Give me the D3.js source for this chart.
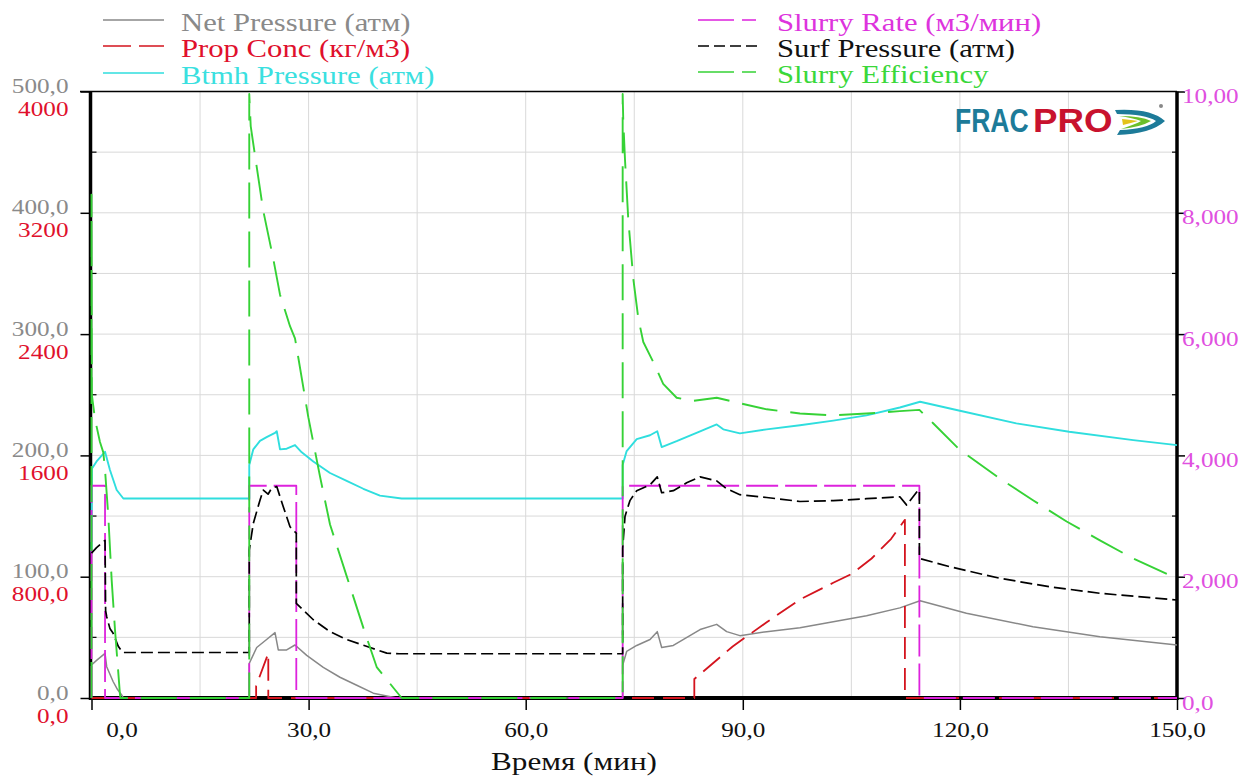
<!DOCTYPE html>
<html>
<head>
<meta charset="utf-8">
<script src="https://cdn.jsdelivr.net/npm/d3@7"></script>
<style>
  body { margin: 0; background: #fff; }
  svg { display: block; }
</style>
</head>
<body>
<svg id="chart" width="1259" height="778"></svg>
<script>
// ---- series: [time (min), value] ----
const netPressure = [
  [0,27.2],[0.7,31],[1.87,36.8],[2.1,25.8],[3.0,13.4],[3.6,7],[4.17,2.5],[4.4,0],
  [21.8,0],[21.8,28.6],[22.83,41.6],[24.2,48.2],[25.36,53.9],[25.81,39.6],[26.97,39.6],[28.12,43.7],
  [29.74,35.1],[32.03,25.3],[34.33,17.1],[36.65,10.5],[38.94,4.0],[42.17,0],
  [73.4,0],[73.4,27],[73.95,38.4],[75.34,43.3],[77.18,48.2],[78.18,54.7],[78.79,41.6],[80.4,43.3],
  [84.1,56.4],[86.39,60.7],[87.77,54.7],[89.6,51.4],[93.3,54.7],[97.9,58],[102.5,62.9],[107.1,67.8],
  [111.7,74.3],[114.5,80.2],[120.9,69.8],[130.1,58.8],[139.35,50.5],[150,43.7]
];
const propConc = [
  [0,0],[22.75,0],[22.75,80],[24.43,295],[24.43,0],
  [83.3,0],[83.3,125],[88.6,340],[93.3,500],[97.9,650],[102.5,760],[105.1,820],[107.8,920],
  [110.5,1050],[112.4,1175],[112.4,0],[150,0]
];
const btmhPressure = [
  [0,120],[0.05,189],[0.7,195],[1.87,203],[2.55,188],[3.48,171.5],[4.4,164.5],
  [21.8,164.5],[21.8,192],[22.36,205],[23.28,212],[24.2,215],[25.36,218.5],[25.6,220],[26.05,205],
  [26.97,205.5],[28.12,208.5],[29.05,202.5],[30.65,195],[32.96,185.5],[35.26,179],[37.56,172.5],
  [39.86,166.8],[42.86,164.5],
  [73.4,164.5],[73.4,192],[73.95,203.6],[75.34,213.4],[77.18,216.6],[78.18,219.9],[78.79,206.9],
  [80.86,211.7],[84.1,219.9],[86.39,225.5],[87.3,221.5],[89.6,218.2],[93.3,221.5],[97.9,224.8],
  [102.5,228.7],[107.1,233],[111.7,239.5],[114.5,244.2],[120,236.8],[127.8,226.4],[135.1,219.5],
  [143.95,212.6],[150,208.5]
];
const slurryRate = [
  [0,0],[0,3.5],[1.87,3.5],[1.87,0],[21.8,0],[21.8,3.5],[28.3,3.5],[28.3,0],
  [73.4,0],[73.4,3.5],[114.4,3.5],[114.4,0],[150,0]
];
const surfPressure = [
  [0,119.5],[0.7,124],[1.87,130],[1.95,72],[2.1,67],[2.56,57],[2.97,53.6],[3.7,42.6],[4.3,37.5],
  [21.8,37.5],[21.8,122],[22.36,144],[23.28,163],[23.74,171.4],[24.4,168],[24.9,173],[25.6,174.3],
  [26.5,157.7],[27.43,141.2],[28.12,137],[28.3,136],[28.3,78],[30.65,64.5],[32.96,54.7],[35.26,48.2],
  [38.5,41.6],[40.8,37],[42.5,36.5],
  [73.4,36.5],[73.4,123.4],[73.72,149.6],[74.4,162.7],[75.34,170.9],[77.18,175.7],[78.18,182.3],
  [78.79,169.2],[80.4,170.9],[82.24,177.4],[84.1,182.3],[86.39,179],[87.77,172.5],[89.6,167.6],
  [93.3,165.3],[97.9,162],[102.5,162.7],[107.1,164.3],[111.7,165.9],[112.65,159],[114.25,171.4],
  [114.4,171.4],[114.4,115.1],[118.6,108.2],[125.5,98.7],[132.4,91.7],[139.35,86.3],[150,80.8]
];
const slurryEfficiency = [
  [0,0],[0,8.3],[0.05,5.0],[0.48,4.6],[1.17,4.22],[1.63,4.05],[1.87,3.76],[2.32,3.0],[2.79,1.94],
  [3.25,1.12],[3.94,0.05],[4.0,0],
  [21.8,0],[21.8,9.96],[22.0,9.43],[22.6,8.94],[23.74,8.03],[25.12,7.24],[26.05,6.65],[27.43,6.13],
  [28.12,5.93],[28.58,5.61],[29.96,4.63],[31.58,3.65],[32.96,2.86],[35.26,2.01],[37.56,1.16],
  [39.41,0.51],[42.86,0],
  [73.4,0],[73.4,9.96],[73.48,9.53],[73.72,8.88],[74.17,7.9],[74.86,6.92],[75.56,6.26],[76.25,5.87],
  [77.63,5.54],[79.0,5.18],[80.86,4.95],[83.16,4.9],[86.4,4.95],[89.6,4.86],[93.3,4.76],[97.9,4.69],
  [102.5,4.66],[107.1,4.69],[111.7,4.73],[114.4,4.75],[116.3,4.53],[120,4.09],[125.5,3.62],
  [130.1,3.26],[134.75,2.91],[139.35,2.6],[143.95,2.3],[150,1.97]
];

// ---- tick labels ----
const timeTicks = [0, 30, 60, 90, 120, 150];
const timeLabels = ["0,0", "30,0", "60,0", "90,0", "120,0", "150,0"];
const pressureTicks = [0, 100, 200, 300, 400, 500];
const pressureLabels = ["0,0", "100,0", "200,0", "300,0", "400,0", "500,0"];
const concTicks = [0, 800, 1600, 2400, 3200, 4000];
const concLabels = ["0,0", "800,0", "1600", "2400", "3200", "4000"];
const rateTicks = [0, 2, 4, 6, 8, 10];
const rateLabels = ["0,0", "2,000", "4,000", "6,000", "8,000", "10,00"];

// ---- layout ----
const svg = d3.select("#chart");
const L = 91.5, R = 1177, T = 91.5, B = 698;
const SX = 1.2;                 // horizontal text stretch
const SERIF = '"Liberation Serif", "Times New Roman", serif';
const SANS = '"Liberation Sans", Arial, sans-serif';

const x = d3.scaleLinear().domain([0, 150]).range([L, R]);
const yP = d3.scaleLinear().domain([0, 500]).range([B, T]);
const yC = d3.scaleLinear().domain([0, 4000]).range([B, T]);
const yR = d3.scaleLinear().domain([0, 10]).range([B, T]);

// grid
const grid = svg.append("g").attr("stroke", "#d9d9d9").attr("stroke-width", 1);
grid.selectAll("line.v").data(d3.range(15, 150, 15)).join("line")
  .attr("x1", d => x(d)).attr("x2", d => x(d)).attr("y1", T).attr("y2", B);
grid.selectAll("line.h").data(d3.range(50, 500, 50)).join("line")
  .attr("x1", L).attr("x2", R).attr("y1", d => yP(d)).attr("y2", d => yP(d));

function styleTicks(g, fill, size, dx, dy, anchor) {
  g.attr("font-family", null).attr("font-size", null);
  g.select(".domain").remove();
  g.selectAll(".tick line").attr("stroke", "#000").attr("stroke-width", 1.5);
  g.selectAll(".tick text")
    .attr("x", null).attr("y", null).attr("dy", null)
    .attr("text-anchor", anchor)
    .attr("fill", fill)
    .style("font-family", SERIF).style("font-size", size + "px")
    .attr("transform", `translate(${dx},${dy}) scale(${SX},1)`);
}

// left axis: pressure (grey) and proppant concentration (red)
const gL = svg.append("g").attr("transform", `translate(${L},0)`)
  .call(d3.axisLeft(yP).tickValues(pressureTicks).tickSize(11).tickFormat((d, i) => pressureLabels[i]));
styleTicks(gL, "#8a8a8a", 21, -23, 1, "end");
const gLc = svg.append("g").attr("transform", `translate(${L},0)`)
  .call(d3.axisLeft(yC).tickValues(concTicks).tickSize(0).tickFormat((d, i) => concLabels[i]));
styleTicks(gLc, "#e0102c", 21, -23, 24, "end");

// left minor ticks
svg.append("g").selectAll("line").data(d3.range(50, 500, 100)).join("line")
  .attr("x1", L).attr("x2", L + 5).attr("y1", d => yP(d)).attr("y2", d => yP(d))
  .attr("stroke", "#000").attr("stroke-width", 1.2);

// right axis: slurry rate / efficiency
const gR = svg.append("g").attr("transform", `translate(${R},0)`)
  .call(d3.axisRight(yR).tickValues(rateTicks).tickSize(8).tickFormat((d, i) => rateLabels[i]));
styleTicks(gR, "#e050e0", 21, 5, 11, "start");
svg.append("g").selectAll("line").data(d3.range(1, 10, 2)).join("line")
  .attr("x1", R - 5).attr("x2", R).attr("y1", d => yR(d)).attr("y2", d => yR(d))
  .attr("stroke", "#000").attr("stroke-width", 1.2);

// bottom axis: time
const gB = svg.append("g").attr("transform", `translate(0,${B})`)
  .call(d3.axisBottom(x).tickValues(timeTicks).tickSize(12).tickFormat((d, i) => timeLabels[i]));
styleTicks(gB, "#111", 21, 0, 39, "middle");
gB.selectAll(".tick text").filter(d => d === 0)
  .attr("transform", `translate(30,39) scale(${SX},1)`);

// frame lines
svg.append("line").attr("x1", 80).attr("x2", R).attr("y1", T).attr("y2", T)
  .attr("stroke", "#000").attr("stroke-width", 1.6);
svg.append("line").attr("x1", L - 1).attr("x2", L - 1).attr("y1", T).attr("y2", B + 2)
  .attr("stroke", "#000").attr("stroke-width", 3.5);
svg.append("line").attr("x1", R).attr("x2", R).attr("y1", T).attr("y2", B + 2)
  .attr("stroke", "#000").attr("stroke-width", 3.5);
svg.append("line").attr("x1", L - 2).attr("x2", R + 1).attr("y1", B).attr("y2", B)
  .attr("stroke", "#000").attr("stroke-width", 4);

// axis title
svg.append("text")
  .attr("transform", `translate(574,770) scale(${SX},1)`)
  .attr("text-anchor", "middle")
  .style("font-family", SERIF).style("font-size", "26px")
  .attr("fill", "#111")
  .text("Время (мин)");

// ---- series ----
const series = [
  { name: "Net Pressure (атм)",   data: netPressure,      y: yP, color: "#888888", text: "#8a8a8a", dash: null,    w: 1.5, legDash: null },
  { name: "Prop Conc (кг/м3)",    data: propConc,         y: yC, color: "#d4141e", text: "#e0102c", dash: "22,9",  w: 1.8, legDash: "28,8" },
  { name: "Btmh Pressure (атм)",  data: btmhPressure,     y: yP, color: "#2fdede", text: "#3ae0e0", dash: null,    w: 1.9, legDash: null },
  { name: "Slurry Rate (м3/мин)", data: slurryRate,       y: yR, color: "#dd22dd", text: "#dd33dd", dash: "32,7",  w: 1.8, legDash: "36,8,14,8" },
  { name: "Surf Pressure (атм)",  data: surfPressure,     y: yP, color: "#000000", text: "#111111", dash: "12,5",  w: 1.7, legDash: "11,5" },
  { name: "Slurry Efficiency",    data: slurryEfficiency, y: yR, color: "#36d236", text: "#3ad83a", dash: "36,13", w: 1.9, legDash: "36,8,14,8" }
];

const plot = svg.append("g");
series.forEach(s => {
  const line = d3.line().x(d => x(d[0])).y(d => s.y(d[1]));
  plot.append("path")
    .datum(s.data)
    .attr("d", line)
    .attr("fill", "none")
    .attr("stroke", s.color)
    .attr("stroke-width", s.w)
    .attr("stroke-linejoin", "round")
    .attr("stroke-dasharray", s.dash);
});

// ---- legend ----
const legendSlots = [
  { sx: 103, tx: 181, y: 31 },
  { sx: 103, tx: 181, y: 57 },
  { sx: 103, tx: 181, y: 84 },
  { sx: 698, tx: 777, y: 31 },
  { sx: 698, tx: 777, y: 57 },
  { sx: 698, tx: 777, y: 83 }
];
series.forEach((s, i) => {
  const p = legendSlots[i];
  svg.append("line")
    .attr("x1", p.sx).attr("x2", p.sx + 61).attr("y1", p.y - 11).attr("y2", p.y - 11)
    .attr("stroke", s.color).attr("stroke-width", 1.6)
    .attr("stroke-dasharray", s.legDash);
  svg.append("text")
    .attr("transform", `translate(${p.tx},${p.y}) scale(1.18,1)`)
    .style("font-family", SERIF).style("font-size", "26px")
    .attr("fill", s.text)
    .text(s.name);
});

// ---- logo ----
const logo = svg.append("g")
  .style("font-family", SANS).style("font-weight", "bold").style("font-size", "34px");
logo.append("text")
  .attr("transform", "translate(955,132) scale(0.78,1)")
  .attr("fill", "#1d7b99").text("FRAC");
logo.append("text")
  .attr("transform", "translate(1033,132) scale(1.08,1)")
  .attr("fill", "#c8122e").text("PRO");
logo.append("path")
  .attr("d", "M1115,110 Q1151,108 1165,121 Q1151,134 1117,135 L1120,130 Q1147,129 1156,121 Q1145,114 1117,114 Z")
  .attr("fill", "#1d7b99");
logo.append("path")
  .attr("d", "M1119,116 Q1141,116 1151,121 Q1141,127 1121,129 Q1136,124 1141,121 Q1133,118 1119,116 Z")
  .attr("fill", "#6cbf2a");
logo.append("path")
  .attr("d", "M1122,119 Q1132,120 1138,121 Q1131,123 1123,125 Z")
  .attr("fill", "#e3c21a");
logo.append("circle").attr("cx", 1161).attr("cy", 106).attr("r", 2).attr("fill", "#888");
</script>
</body>
</html>
